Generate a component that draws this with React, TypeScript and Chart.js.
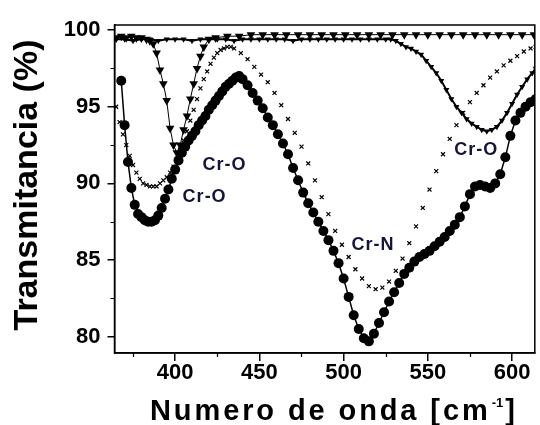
import { useEffect, useRef } from "react";
import { Chart, registerables } from "chart.js";

Chart.register(...registerables);

// ---- data ----
const circlesX = [368,370,372,374,376,378,380,382,384,386,388,390,392,394,396,398,400,402,404,406,408,410,412,414,416,418,420,422,424,426,428,430,432,434,436,438,440,443,446,449,452,455,458,461,464,467,470,473,476,479,482,485,488,491,494,497,500,503,506,509,512,515,518,521,524,527,530,533,536,539,542,545,548,551,554,557,560,563,566,569,572,575,578,581,584,587,590,593,596,599,602,605,608,611,614];
const circlesY = [96.7,93.8,91.4,89.7,88.6,88.0,87.8,87.6,87.5,87.5,87.6,87.9,88.4,89.0,89.6,90.3,90.9,91.5,92.0,92.4,92.8,93.1,93.4,93.8,94.1,94.4,94.8,95.1,95.4,95.7,96.0,96.3,96.5,96.7,96.9,97.0,96.8,96.4,95.9,95.4,94.9,94.3,93.8,93.2,92.6,91.9,91.0,90.2,89.4,88.7,88.1,87.5,86.9,86.3,85.6,84.8,83.8,82.6,81.4,80.5,79.9,79.7,80.2,80.9,81.6,82.3,82.9,83.5,84.1,84.5,84.9,85.2,85.4,85.6,85.9,86.2,86.5,86.9,87.3,87.8,88.5,89.3,89.8,89.9,89.8,89.7,90.0,90.6,91.7,93.1,94.1,94.6,95.0,95.3,95.5];

const crossesX = [365,367,369,371,373,375,377,379,381,383,385,387,389,391,393,395,397,399,401,403,405,407,409,411,413,415,417,419,421,423,425,427,429,431,433,435,439,443,447,451,455,459,463,467,471,475,479,483,487,491,495,499,503,507,511,515,519,523,527,531,535,539,543,547,551,555,559,563,567,571,575,579,583,587,591,595,599,603,607,611,614];
const crossesY = [95.0,94.0,93.2,92.5,91.8,91.2,90.7,90.3,90.0,89.9,89.8,89.8,89.8,90.0,90.2,90.4,90.7,91.1,91.6,92.2,92.8,93.4,94.1,94.8,95.5,96.2,96.8,97.3,97.8,98.2,98.5,98.7,98.8,98.9,98.9,98.8,98.5,98.1,97.6,97.1,96.6,95.9,95.1,94.2,93.3,92.4,91.3,90.2,89.1,88.0,86.9,86.0,85.2,84.4,83.8,83.3,83.1,83.2,83.6,84.3,85.1,86.1,87.2,88.4,89.6,90.8,91.9,92.9,93.8,94.6,95.3,95.9,96.4,96.9,97.3,97.7,98.0,98.3,98.6,98.8,98.9];

const trianglesX = [365,368,371,374,377,380,383,385,387,389,391,393,395,397,399,401,403,405,407,409,411,413,415,417,420,424,431,438,445,452,459,466,473,480,487,494,501,508,515,522,529,536,543,550,557,564,571,578,585,592,599,606,613];
const trianglesY = [99.5,99.6,99.5,99.6,99.5,99.5,99.4,99.3,99.1,98.5,97.4,96.5,95.4,93.6,92.5,92.0,92.5,93.5,94.4,95.5,96.5,97.5,98.3,98.9,99.4,99.5,99.6,99.6,99.7,99.7,99.7,99.7,99.7,99.7,99.7,99.7,99.7,99.7,99.7,99.7,99.7,99.7,99.7,99.7,99.7,99.7,99.7,99.7,99.7,99.7,99.7,99.7,99.7];

const smallTriX = [365,370,375,380,385,390,395,400,405,410,415,420,425,430,435,440,445,450,455,460,465,470,475,480,485,490,495,500,505,510,515,520,525,528,531,534,537,540,543,546,549,552,555,558,561,564,567,570,573,576,579,582,585,588,591,594,597,600,603,606,609,612,614];
const smallTriY = [99.4,99.4,99.3,99.4,99.4,99.3,99.4,99.4,99.4,99.3,99.4,99.4,99.4,99.4,99.3,99.4,99.4,99.4,99.4,99.4,99.4,99.3,99.4,99.4,99.4,99.4,99.4,99.4,99.4,99.4,99.4,99.4,99.4,99.4,99.3,99.1,98.9,98.8,98.6,98.4,98.0,97.6,97.2,96.7,96.1,95.5,95.0,94.6,94.2,93.9,93.7,93.5,93.4,93.5,93.7,94.1,94.6,95.2,95.8,96.3,96.8,97.2,97.5];

const xTicks = [400, 450, 500, 550, 600];
const xMinorTicks = [375, 425, 475, 525, 575];
const yTicks = [80, 85, 90, 95, 100];
const yMinorTicks = [82.5, 87.5, 92.5, 97.5];

const peakLabels = ["Cr-O", "Cr-O", "Cr-N", "Cr-O"];
const peakLabelX = [429.3, 417.5, 517.5, 578.7];
const peakLabelY = [91.2, 89.1, 86.0, 92.2];

const xTitleMain = "Numero de onda [cm";
const xTitleSup = "-1";
const xTitleEnd = "]";
const yTitle = "Transmitancia (%)";

const FONT = '"Liberation Sans", Arial, sans-serif';

const pts = (xs: number[], ys: number[]) => xs.map((x, i) => ({ x, y: ys[i] }));

const decor = {
  id: "decor",
  afterDraw(chart: any) {
    const { ctx, chartArea: a, scales } = chart;
    const xs = scales.x;
    const ys = scales.y;
    ctx.save();
    ctx.strokeStyle = "#000";
    ctx.lineWidth = 1.5;
    ctx.strokeRect(a.left, a.top, a.right - a.left, a.bottom - a.top);
    ctx.lineWidth = 1.2;
    ctx.beginPath();
    xMinorTicks.forEach((v) => {
      const p = Math.round(xs.getPixelForValue(v)) + 0.5;
      ctx.moveTo(p, a.bottom);
      ctx.lineTo(p, a.bottom + 4);
    });
    yMinorTicks.forEach((v) => {
      const p = Math.round(ys.getPixelForValue(v)) + 0.5;
      ctx.moveTo(a.left, p);
      ctx.lineTo(a.left - 4, p);
    });
    ctx.stroke();

    // peak labels
    ctx.fillStyle = "#15153a";
    ctx.font = `bold 18px ${FONT}`;
    (ctx as any).letterSpacing = "1px";
    ctx.textAlign = "center";
    ctx.textBaseline = "middle";
    peakLabels.forEach((t, i) => {
      ctx.fillText(t, xs.getPixelForValue(peakLabelX[i]), ys.getPixelForValue(peakLabelY[i]));
    });

    // x title
    ctx.fillStyle = "#000";
    ctx.textAlign = "left";
    ctx.textBaseline = "alphabetic";
    ctx.font = `bold 29px ${FONT}`;
    (ctx as any).letterSpacing = "2.9px";
    const x0 = 150;
    ctx.fillText(xTitleMain, x0, 420);
    const w = ctx.measureText(xTitleMain).width;
    (ctx as any).letterSpacing = "0px";
    ctx.font = `bold 13px ${FONT}`;
    ctx.fillText(xTitleSup, x0 + w + 1, 407);
    const ws = ctx.measureText(xTitleSup).width;
    ctx.font = `bold 29px ${FONT}`;
    ctx.fillText(xTitleEnd, x0 + w + ws + 3, 420);

    // y title
    ctx.translate(36.5, 330.5);
    ctx.rotate(-Math.PI / 2);
    ctx.font = `bold 34px ${FONT}`;
    ctx.fillText(yTitle, 0, 0);
    ctx.restore();
  },
};

export default function App() {
  const ref = useRef<HTMLCanvasElement>(null);
  useEffect(() => {
    if (!ref.current) return;
    const chart = new Chart(ref.current, {
      type: "scatter",
      data: {
        datasets: [
          {
            label: "circles",
            data: pts(circlesX, circlesY),
            showLine: true,
            borderColor: "#000",
            backgroundColor: "#000",
            borderWidth: 1.5,
            pointStyle: "circle",
            pointRadius: 5,
            pointBorderWidth: 0,
          },
          {
            label: "crosses",
            data: pts(crossesX, crossesY),
            showLine: false,
            borderColor: "#000",
            backgroundColor: "#000",
            pointStyle: "crossRot",
            pointRadius: 2.8,
            pointBorderWidth: 1.2,
          },
          {
            label: "triangles",
            data: pts(trianglesX, trianglesY),
            showLine: true,
            borderColor: "#000",
            backgroundColor: "#000",
            borderWidth: 1,
            pointStyle: "triangle",
            pointRotation: 180,
            pointRadius: 5,
            pointBorderWidth: 0,
          },
          {
            label: "small triangles",
            data: pts(smallTriX, smallTriY),
            showLine: true,
            borderColor: "#000",
            backgroundColor: "#000",
            borderWidth: 2,
            pointStyle: "triangle",
            pointRotation: 180,
            pointRadius: 3.5,
            pointBorderWidth: 0,
          },
        ],
      },
      options: {
        responsive: false,
        animation: false,
        devicePixelRatio: 1,
        layout: { padding: { top: 25, right: 2, left: 0, bottom: 0 } },
        plugins: { legend: { display: false }, tooltip: { enabled: false } },
        scales: {
          x: {
            type: "linear",
            min: 364,
            max: 613.5,
            afterBuildTicks: (s: any) => {
              s.ticks = xTicks.map((v) => ({ value: v }));
            },
            afterFit: (s: any) => {
              s.height = 72;
            },
            grid: { drawOnChartArea: false, drawTicks: true, tickLength: 8, color: "#000", lineWidth: 1.5 },
            border: { display: true, color: "#000", width: 1.5 },
            ticks: { color: "#000", padding: 1, font: { family: FONT, size: 22, weight: "bold", lineHeight: 1 }, maxRotation: 0 },
          },
          y: {
            type: "linear",
            min: 78.94,
            max: 100.33,
            afterBuildTicks: (s: any) => {
              s.ticks = yTicks.map((v) => ({ value: v }));
            },
            afterFit: (s: any) => {
              s.width = 114.5;
            },
            grid: { drawOnChartArea: false, drawTicks: true, tickLength: 7, color: "#000", lineWidth: 1.5 },
            border: { display: true, color: "#000", width: 1.5 },
            ticks: { color: "#000", padding: 7, font: { family: FONT, size: 22, weight: "bold", lineHeight: 1 } },
          },
        },
      },
      plugins: [decor],
    } as any);
    return () => chart.destroy();
  }, []);
  return (
    <div style={{ position: "absolute", left: 0, top: 0, width: 540, height: 425, background: "#fff" }}>
      <canvas ref={ref} width={540} height={425} style={{ display: "block" }} />
    </div>
  );
}
